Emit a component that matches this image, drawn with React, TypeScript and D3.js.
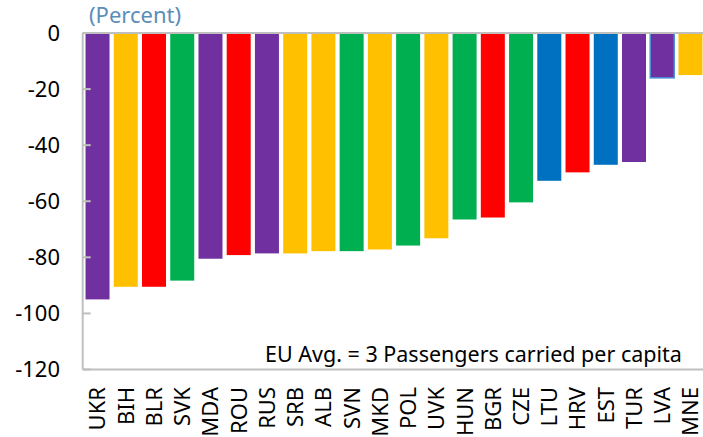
import React from "react";
import * as d3 from "d3";

const categories = ["UKR","BIH","BLR","SVK","MDA","ROU","RUS","SRB","ALB","SVN","MKD","POL","UVK","HUN","BGR","CZE","LTU","HRV","EST","TUR","LVA","MNE"];
const values = [-95,-90.5,-90.5,-88.3,-80.5,-79.2,-78.6,-78.6,-77.8,-77.8,-77.2,-75.8,-73.2,-66.5,-65.8,-60.4,-52.7,-49.7,-47,-46,-16,-15];
const groups = ["P","Y","R","G","P","R","P","Y","Y","G","Y","G","Y","G","R","G","B","R","B","P","P","Y"];
const highlighted = ["LVA"];
const yTicks = [0,-20,-40,-60,-80,-100,-120];

const colorMap: Record<string,string> = {P:"#7030A0",Y:"#FFC000",R:"#FF0000",G:"#00B050",B:"#0070C0"};

export default function App() {
  const W = 703, H = 437;
  const left = 82.7, top = 33, bottom = 369.5;
  const x = d3.scaleBand<string>().domain(categories).range([left, left + 22 * 28.3]).paddingInner(0.15).paddingOuter(0.1);
  const y = d3.scaleLinear().domain([0, -120]).range([top, bottom]);
  const font = "'Noto Sans', sans-serif";
  const data = categories.map((c, i) => ({ c, v: values[i], g: groups[i] }));
  return (
    <svg width={W} height={H} style={{ position: "absolute", left: 0, top: 0, background: "#fff" }}>
      <text x={89} y={23} fill="#5B8DB8" fontSize={22} fontFamily={font}>(Percent)</text>
      {data.map(d => (
        <rect key={d.c} x={x(d.c)!} y={y(0)} width={x.bandwidth()} height={y(d.v) - y(0)}
          fill={colorMap[d.g]}
          stroke={highlighted.includes(d.c) ? "#4A90D9" : "none"} strokeWidth={highlighted.includes(d.c) ? 1.5 : 0} />
      ))}
      <line x1={left} x2={W + 10} y1={y(0)} y2={y(0)} stroke="#BFBFBF" strokeWidth={2} />
      <line x1={left} x2={W + 10} y1={y(-120)} y2={y(-120)} stroke="#BFBFBF" strokeWidth={2} />
      <line x1={left} x2={left} y1={y(0)} y2={y(-120)} stroke="#BFBFBF" strokeWidth={2} />
      {yTicks.map(t => (
        <g key={t}>
          <line x1={left} x2={left + 8} y1={y(t)} y2={y(t)} stroke="#BFBFBF" strokeWidth={2} />
          <text x={60} y={y(t)} dy="0.35em" textAnchor="end" fontSize={22} fontFamily={font} fill="#000">{t}</text>
        </g>
      ))}
      {categories.map(c => (
        <text key={c} transform={`translate(${x(c)! + x.bandwidth() / 2},387) rotate(-90)`} dy="0.36em"
          textAnchor="end" fontSize={22} fontFamily={font} fill="#000">{c}</text>
      ))}
      <text x={265} y={362} fontSize={21.5} fontFamily={font} fill="#000">EU Avg. = 3 Passengers carried per capita</text>
    </svg>
  );
}
